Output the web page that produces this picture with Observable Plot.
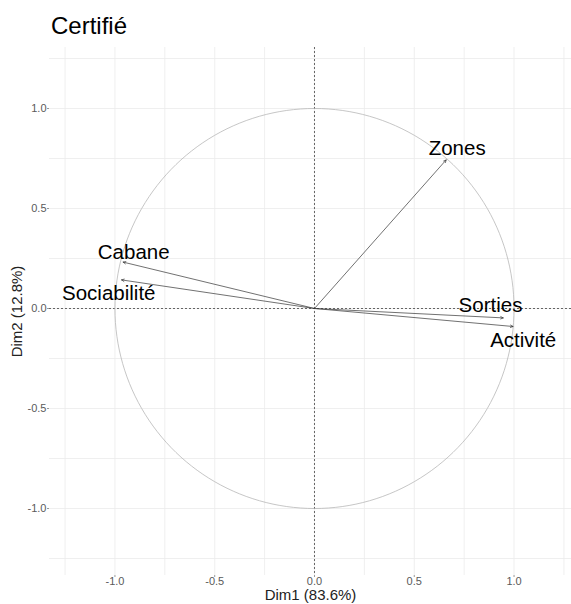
<!DOCTYPE html>
<html>
<head>
<meta charset="utf-8">
<script src="https://cdn.jsdelivr.net/npm/d3@7"></script>
<script src="https://cdn.jsdelivr.net/npm/@observablehq/plot@0.6"></script>
<style>
  body { margin: 0; background: #fff; font-family: "Liberation Sans", Arial, sans-serif; }
  #wrap { position: relative; width: 571px; height: 604px; }
  #title { position: absolute; left: 51px; top: 14px; font-size: 24px; color: #000; line-height: 1; }
</style>
</head>
<body>
<div id="wrap"><div id="title">Certifié</div></div>
<script>
const variables = ["Zones", "Cabane", "Sociabilité", "Sorties", "Activité"];
const dim1 = [0.66, -0.959, -0.967, 0.946, 0.995];
const dim2 = [0.743, 0.232, 0.143, -0.047, -0.09];
const labelX = [0.715, -0.906, -1.031, 0.882, 1.046];
const labelY = [0.80, 0.282, 0.077, 0.015, -0.16];
const tickValues = [-1, -0.5, 0, 0.5, 1];
const tickLabels = ["-1.0", "-0.5", "0.0", "0.5", "1.0"];
const gridValues = [-1.25, -1, -0.75, -0.5, -0.25, 0, 0.25, 0.5, 0.75, 1, 1.25];
const xTitle = "Dim1 (83.6%)";
const yTitle = "Dim2 (12.8%)";

const vars = variables.map((name, i) => ({name, x: dim1[i], y: dim2[i], lx: labelX[i], ly: labelY[i]}));
const circle = d3.range(0, 361, 2).map(a => ({x: Math.cos(a * Math.PI / 180), y: Math.sin(a * Math.PI / 180)}));
const fmt = d => tickLabels[tickValues.indexOf(d)];

const chart = Plot.plot({
  width: 571,
  height: 604,
  marginLeft: 49,
  marginRight: 0,
  marginTop: 47,
  marginBottom: 29,
  style: {fontFamily: "Liberation Sans, Arial, sans-serif", background: "#fff"},
  x: {domain: [-1.328, 1.288]},
  y: {domain: [-1.335, 1.305]},
  marks: [
    Plot.gridX(gridValues, {stroke: "#ebebeb", strokeOpacity: 1, strokeWidth: 0.8}),
    Plot.gridY(gridValues, {stroke: "#ebebeb", strokeOpacity: 1, strokeWidth: 0.8}),
    Plot.axisX(tickValues, {tickFormat: fmt, tickSize: 2, tickPadding: 0, fontSize: 11, color: "#5a5a5a", stroke: "#999", label: null}),
    Plot.axisY(tickValues, {tickFormat: fmt, tickSize: 2, tickPadding: 1, fontSize: 11, color: "#5a5a5a", stroke: "#999", label: null}),
    Plot.axisX([], {label: xTitle, labelAnchor: "center", labelArrow: "none", labelOffset: 24, fontSize: 15, color: "#222", tickSize: 0}),
    Plot.axisY([], {label: yTitle, labelAnchor: "center", labelArrow: "none", labelOffset: 38, fontSize: 15, color: "#222", tickSize: 0}),
    Plot.ruleX([0], {stroke: "#555", strokeDasharray: "2,2", strokeWidth: 0.9}),
    Plot.ruleY([0], {stroke: "#555", strokeDasharray: "2,2", strokeWidth: 0.9}),
    Plot.line(circle, {x: "x", y: "y", stroke: "#b8b8b8", strokeWidth: 0.8}),
    Plot.arrow(vars, {x1: 0, y1: 0, x2: "x", y2: "y", stroke: "#333", strokeWidth: 0.7, headLength: 6, headAngle: 50}),
    Plot.text(vars, {x: "lx", y: "ly", text: "name", fontSize: 20.5, fill: "#000"})
  ]
});
chart.style.position = "absolute";
chart.style.left = "0";
chart.style.top = "0";
document.getElementById("wrap").prepend(chart);
</script>
</body>
</html>
